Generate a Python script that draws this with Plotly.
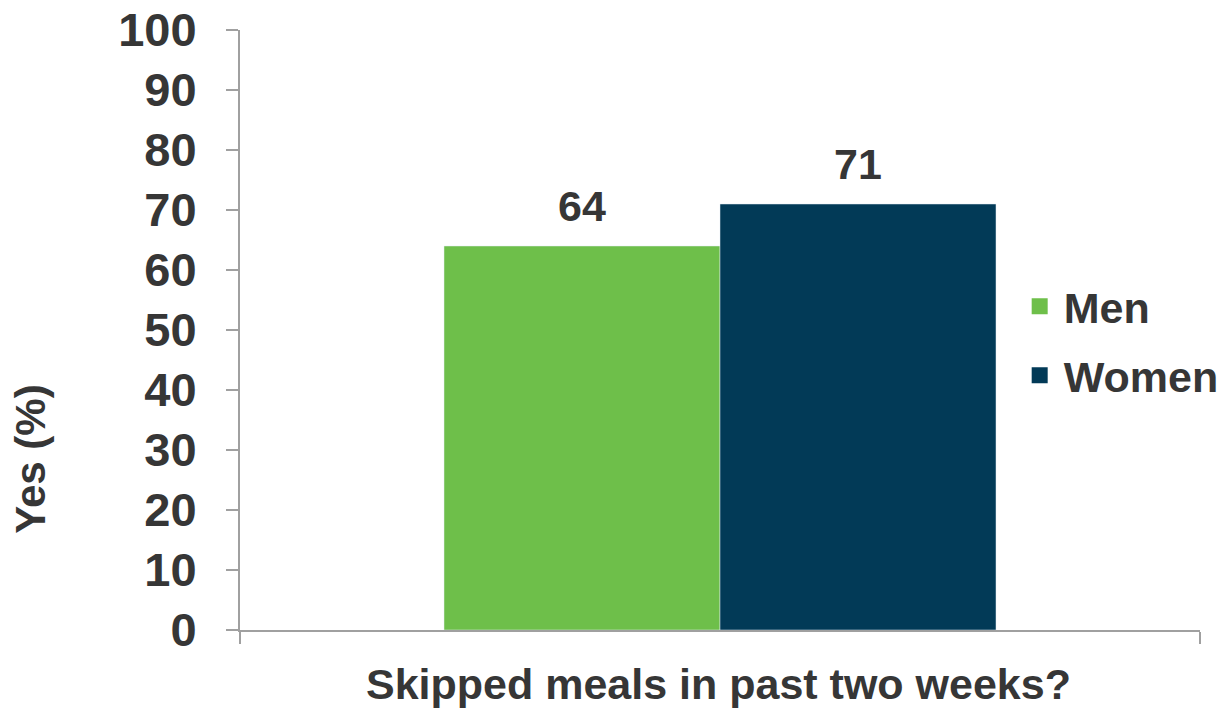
import plotly.graph_objects as go

categories = ["Skipped meals in past two weeks?"]
series_names = ["Men", "Women"]
men_values = [64]
women_values = [71]
colors = {"Men": "#6EBF4A", "Women": "#023A57"}
y_ticks = [0, 10, 20, 30, 40, 50, 60, 70, 80, 90, 100]

FONT = "Liberation Sans"
TXT = "#363636"
AX = "#A0A0A0"

fig = go.Figure()
for name, vals in zip(series_names, [men_values, women_values]):
    fig.add_trace(go.Bar(
        x=categories, y=vals, name=name, marker_color=colors[name],
        offsetgroup=name, alignmentgroup="a", showlegend=False,
    ))
    fig.add_trace(go.Scatter(
        x=categories, y=vals, mode="markers+text", name=name,
        text=[str(v) for v in vals], textposition="top center",
        textfont=dict(family=FONT, size=43, color=TXT, weight="bold"),
        marker=dict(size=22, opacity=0), offsetgroup=name, alignmentgroup="a",
        cliponaxis=False, showlegend=False, hoverinfo="skip",
    ))
    fig.add_trace(go.Scatter(
        x=[None], y=[None], mode="markers", name=name,
        marker=dict(symbol="square", size=25, color=colors[name]),
        legendgroup=name,
    ))

fig.update_layout(
    width=1229, height=711,
    margin=dict(l=240, r=29, t=30, b=81, autoexpand=False),
    paper_bgcolor="white", plot_bgcolor="white",
    barmode="group", bargap=0.425, bargroupgap=0,
    scattermode="group", scattergap=0.425,
    font=dict(family=FONT, color=TXT, weight="bold"),
    legend=dict(x=0.808, y=0.482, yanchor="middle", xanchor="left",
                font=dict(size=43, family=FONT, color=TXT, weight="bold"),
                tracegroupgap=10, itemsizing="trace", itemwidth=38,
                bgcolor="rgba(0,0,0,0)"),
    xaxis=dict(showline=True, linecolor=AX, linewidth=2, ticks="outside",
               tickson="boundaries", ticklen=12, tickcolor=AX, tickwidth=2,
               showticklabels=False, showgrid=False, automargin=False),
    yaxis=dict(range=[0, 100], tickvals=y_ticks, showline=True, linecolor=AX,
               linewidth=2, ticks="outside", ticklen=12, tickcolor=AX, tickwidth=2,
               tickfont=dict(size=47, family=FONT, color=TXT, weight="bold"),
               showgrid=False, zeroline=False, ticklabelstandoff=20,
               automargin=False),
    annotations=[
        dict(text="Skipped meals in past two weeks?", xref="paper", yref="paper",
             x=0.498, y=-0.09, xanchor="center", yanchor="middle", showarrow=False,
             font=dict(size=43, family=FONT, color=TXT, weight="bold")),
        dict(text="Yes (%)", xref="paper", yref="paper", textangle=-90,
             x=-0.219, y=0.285, xanchor="center", yanchor="middle", showarrow=False,
             font=dict(size=42, family=FONT, color=TXT, weight="bold")),
    ],
)

fig.write_html("out.html")
